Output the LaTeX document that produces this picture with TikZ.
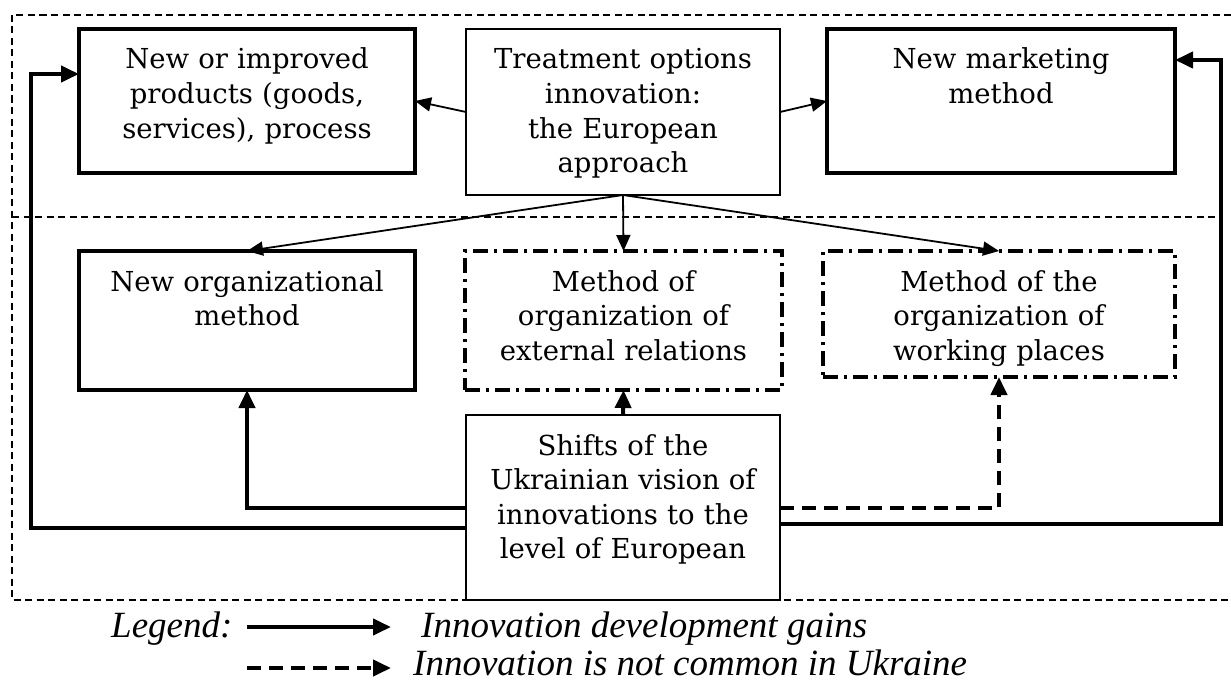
\documentclass[tikz,border=0pt]{standalone}
\usepackage{fontspec}
\setmainfont{DejaVu Serif}
\newfontfamily\legendfont{Liberation Serif}
\usetikzlibrary{arrows.meta,positioning}

\begin{document}
\begin{tikzpicture}[
    x=1pt, y=-1pt,
    font=\fontsize{27.5pt}{34.6pt}\selectfont,
    box/.style={draw, inner sep=0pt, outer sep=0pt, anchor=north west, align=center, text height=40pt},
    heavy/.style={box, line width=3.8pt},
    light/.style={box, line width=1.5pt},
    rarebox/.style={box, line width=3.6pt, dash pattern=on 15pt off 6pt on 3pt off 6pt},
    frame/.style={line width=1.5pt, dash pattern=on 7pt off 4.5pt},
    link/.style={-{Triangle[length=16pt,width=14pt]}, line width=1.8pt},
    feed/.style={-{Triangle[length=18pt,width=16pt]}, line width=4pt},
    rare/.style={feed, dash pattern=on 14pt off 8pt}
]
\useasboundingbox (0,0) rectangle (1231,682);

% dashed frame with the split between the two rows
\draw[frame] (1231,15) -- (12,15) -- (12,600) -- (1231,600);
\draw[frame] (12,217) -- (1222,217);

% top row
\node[heavy, text width=336pt, text depth=104pt] (prod) at (79,29) {New or improved\\products (goods,\\services), process};
\node[light, text width=314pt, text depth=126pt] (treat) at (466,29) {Treatment options\\innovation:\\the European\\approach};
\node[heavy, text width=348pt, text depth=104pt] (mark) at (827,29) {New marketing\\method};

% second row
\node[heavy, text width=336pt, text depth=99pt] (org) at (79,251) {New organizational\\method};
\node[rarebox, text width=317pt, text depth=99pt] (ext) at (465,251) {Method of\\organization of\\external relations};
\node[rarebox, text width=352pt, text depth=86pt] (work) at (823,251) {Method of the\\organization of\\working places};

% bottom
\node[light, text width=314pt, text depth=145pt] (shift) at (466,415) {Shifts of the\\Ukrainian vision of\\innovations to the\\level of European};

\coordinate (lturn) at (31,74);
\coordinate (rturn) at (1221,60);

\draw[link] (treat.west) -- (prod.east);
\draw[link] (treat.east) -- (mark.west);
\draw[link] (treat.south) -- (org.north);
\draw[link] (treat.south) -- (ext.north);
\draw[link] (treat.south) -- (work.north);

\draw[feed] (shift.north) -- (ext.south);
\draw[feed] (shift.west) -| (org.south);
\draw[feed] ([yshift=-20pt]shift.west) -| (lturn) -- (lturn -| prod.west);
\draw[rare] (shift.east) -| (work.south);
\draw[feed] ([yshift=-16pt]shift.east) -| (rturn) -- (rturn -| mark.east);

% legend
\begin{scope}[font=\fontsize{37pt}{40pt}\legendfont\itshape]
\node[anchor=base west, inner sep=0pt] (leg) at (111,637) {Legend:};
\node[anchor=base west, inner sep=0pt] (gain) at (421,637) {Innovation development gains};
\node[anchor=base west, inner sep=0pt] (rare) at (413,675) {Innovation is not common in Ukraine};
\end{scope}
\coordinate (g0) at (247,627);
\coordinate (g1) at (391,627);
\coordinate (r0) at (247,668);
\coordinate (r1) at (391,668);
\draw[feed] (g0) -- (g1);
\draw[rare] (r0) -- (r1);
\end{tikzpicture}
\end{document}
